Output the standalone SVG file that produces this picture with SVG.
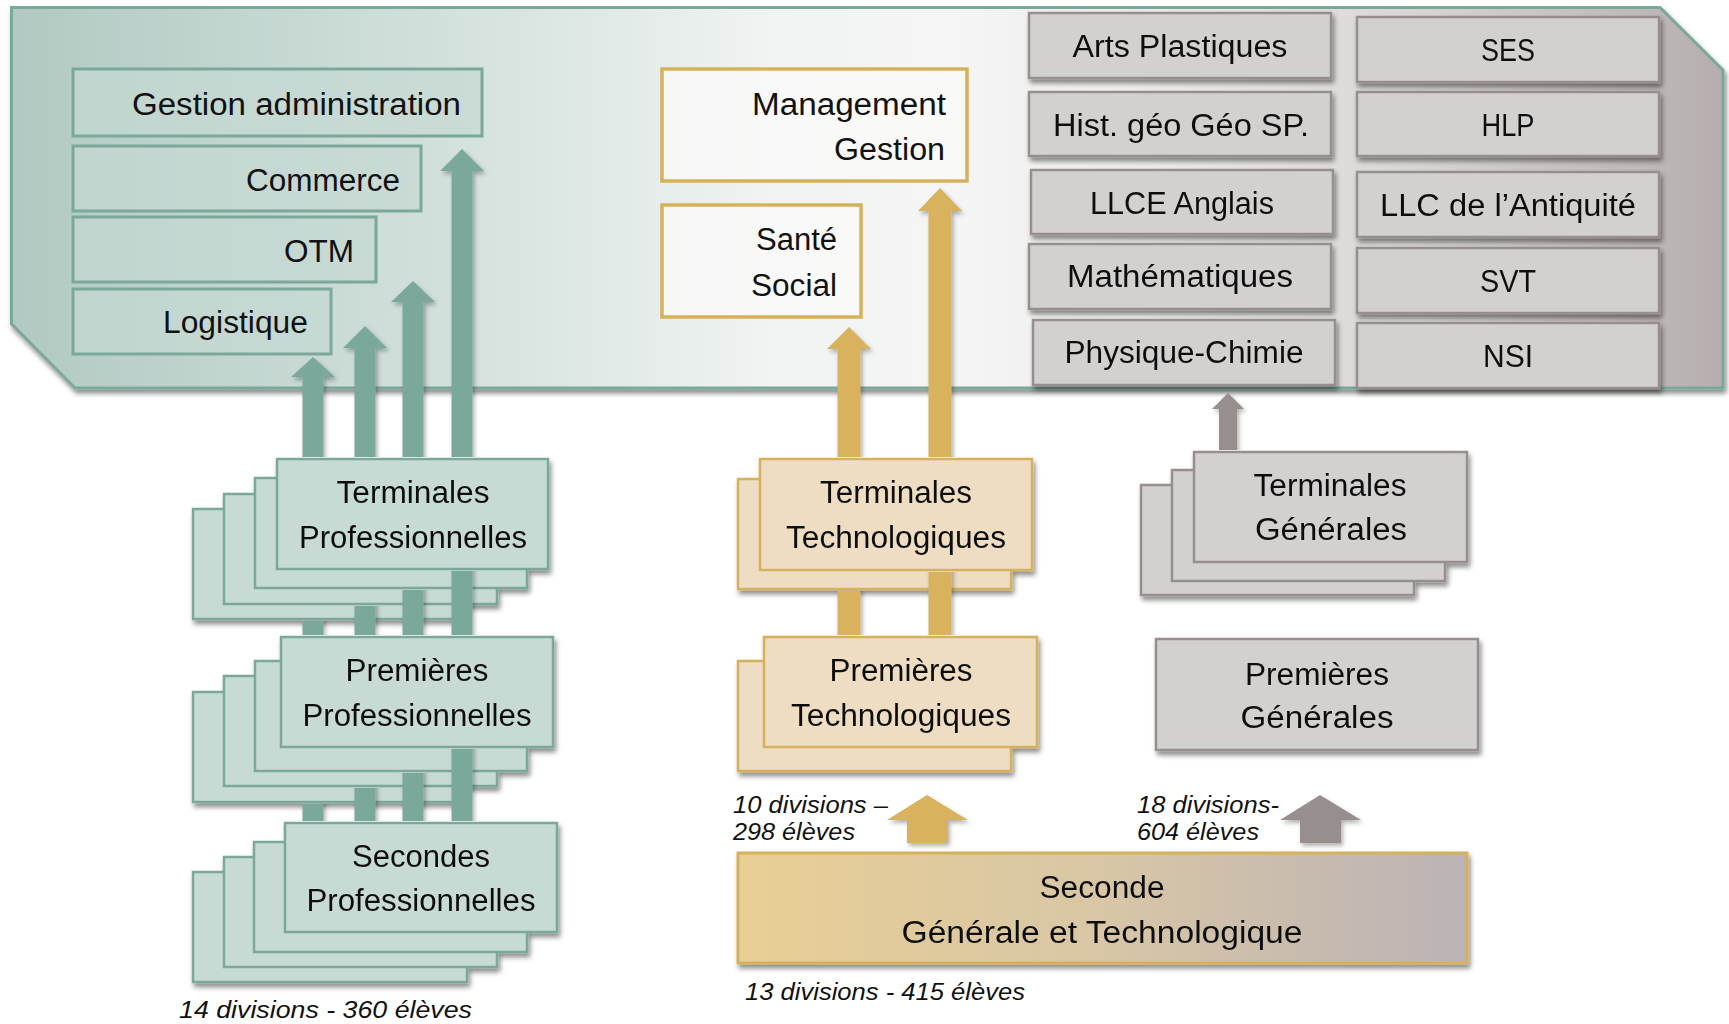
<svg xmlns="http://www.w3.org/2000/svg" xmlns:xlink="http://www.w3.org/1999/xlink" width="1729" height="1024" viewBox="0 0 1729 1024">
<defs>
<style>
.t{font-family:"Liberation Sans",Arial,sans-serif;font-size:31px;fill:#111;}
.i{font-family:"Liberation Sans",Arial,sans-serif;font-size:23px;font-style:italic;fill:#111;}
.m{text-anchor:middle;}
.e{text-anchor:end;}
.teal{fill:#C8DAD4;stroke:#7AA89B;stroke-width:2.5;}
.tealtop{fill:#C6D9D3;fill-opacity:0.7;stroke:#7AA89B;stroke-width:3;}
.tan{fill:#EEDDC3;stroke:#D6B15C;stroke-width:2.5;}
.tanout{fill:#FAFAF9;fill-opacity:0.8;stroke:#D6B15C;stroke-width:3.5;}
.gray{fill:#D3D1D0;stroke:#978E8E;stroke-width:2.5;}
.at{fill:#7AA89B;}
.an{fill:#D8B25C;}
.ag{fill:#978E8E;}
</style>
<linearGradient id="bgG" x1="0" y1="0" x2="1" y2="0">
<stop offset="0" stop-color="#B1C9C2"/>
<stop offset="0.25" stop-color="#D2E0DC"/>
<stop offset="0.45" stop-color="#F1F4F3"/>
<stop offset="0.55" stop-color="#F5F5F5"/>
<stop offset="0.65" stop-color="#EEEDED"/>
<stop offset="0.82" stop-color="#D8D5D5"/>
<stop offset="1" stop-color="#B6AEAE"/>
</linearGradient>
<linearGradient id="secG" x1="0" y1="0" x2="1" y2="0">
<stop offset="0" stop-color="#E8CF95"/>
<stop offset="0.5" stop-color="#D8C6A6"/>
<stop offset="1" stop-color="#BBB3B6"/>
</linearGradient>
<filter id="sh" x="-10%" y="-20%" width="125%" height="150%">
<feDropShadow dx="2" dy="4" stdDeviation="2.5" flood-color="#000" flood-opacity="0.45"/>
</filter>
<filter id="ash" x="-30%" y="-10%" width="170%" height="130%">
<feDropShadow dx="2" dy="3" stdDeviation="2" flood-color="#000" flood-opacity="0.3"/>
</filter>
<mask id="mT4" maskUnits="userSpaceOnUse" x="0" y="0" width="1729" height="1024">
<rect width="1729" height="1024" fill="#fff"/>
<rect x="275" y="457" width="275" height="114" fill="#000"/>
<rect x="279" y="635" width="276" height="114" fill="#000"/>
<rect x="283" y="821" width="276" height="113" fill="#000"/>
</mask>
<mask id="mT3" maskUnits="userSpaceOnUse" x="0" y="0" width="1729" height="1024">
<rect width="1729" height="1024" fill="#fff"/>
<rect x="275" y="457" width="275" height="114" fill="#000"/>
<rect x="279" y="635" width="276" height="114" fill="#000"/>
<rect x="283" y="821" width="276" height="113" fill="#000"/>
<rect x="253" y="476" width="276" height="114" fill="#000"/>
<rect x="253" y="659" width="276" height="114" fill="#000"/>
<rect x="252" y="840" width="277" height="114" fill="#000"/>
</mask>
<mask id="mT2" maskUnits="userSpaceOnUse" x="0" y="0" width="1729" height="1024">
<rect width="1729" height="1024" fill="#fff"/>
<rect x="275" y="457" width="275" height="114" fill="#000"/>
<rect x="279" y="635" width="276" height="114" fill="#000"/>
<rect x="283" y="821" width="276" height="113" fill="#000"/>
<rect x="253" y="476" width="276" height="114" fill="#000"/>
<rect x="253" y="659" width="276" height="114" fill="#000"/>
<rect x="252" y="840" width="277" height="114" fill="#000"/>
<rect x="222" y="492" width="277" height="114" fill="#000"/>
<rect x="222" y="674" width="277" height="114" fill="#000"/>
<rect x="222" y="855" width="277" height="114" fill="#000"/>
</mask>
<mask id="mT1" maskUnits="userSpaceOnUse" x="0" y="0" width="1729" height="1024">
<rect width="1729" height="1024" fill="#fff"/>
<rect x="275" y="457" width="275" height="114" fill="#000"/>
<rect x="279" y="635" width="276" height="114" fill="#000"/>
<rect x="283" y="821" width="276" height="113" fill="#000"/>
<rect x="253" y="476" width="276" height="114" fill="#000"/>
<rect x="253" y="659" width="276" height="114" fill="#000"/>
<rect x="252" y="840" width="277" height="114" fill="#000"/>
<rect x="222" y="492" width="277" height="114" fill="#000"/>
<rect x="222" y="674" width="277" height="114" fill="#000"/>
<rect x="222" y="855" width="277" height="114" fill="#000"/>
<rect x="191" y="507" width="277" height="114" fill="#000"/>
<rect x="191" y="690" width="277" height="114" fill="#000"/>
<rect x="191" y="870" width="278" height="114" fill="#000"/>
</mask>
<mask id="mN2" maskUnits="userSpaceOnUse" x="0" y="0" width="1729" height="1024">
<rect width="1729" height="1024" fill="#fff"/>
<rect x="758" y="457" width="276" height="115" fill="#000"/>
<rect x="762" y="635" width="277" height="114" fill="#000"/>
</mask>
<mask id="mN1" maskUnits="userSpaceOnUse" x="0" y="0" width="1729" height="1024">
<rect width="1729" height="1024" fill="#fff"/>
<rect x="758" y="457" width="276" height="115" fill="#000"/>
<rect x="762" y="635" width="277" height="114" fill="#000"/>
<rect x="736" y="477" width="277" height="114" fill="#000"/>
<rect x="736" y="659" width="277" height="114" fill="#000"/>
</mask>
<mask id="mG" maskUnits="userSpaceOnUse" x="0" y="0" width="1729" height="1024">
<rect width="1729" height="1024" fill="#fff"/>
<rect x="1192" y="450" width="277" height="114" fill="#000"/>
<rect x="1170" y="468" width="277" height="115" fill="#000"/>
<rect x="1139" y="483" width="277" height="114" fill="#000"/>
</mask>
</defs>

<rect width="1729" height="1024" fill="#fff"/>

<g id="background-panel">
<path d="M11.5,7.5 L1660,7.5 L1723,70 L1723,388 L75,388 L11.5,324 Z" fill="url(#bgG)" stroke="#7AA89B" stroke-width="3" filter="url(#sh)"/>
</g>

<g id="pro-options">
<g id="gestion-administration"><rect class="tealtop" x="73" y="69" width="409" height="67"/><text class="t e" x="461" y="115" textLength="329" lengthAdjust="spacingAndGlyphs">Gestion administration</text></g>
<g id="commerce"><rect class="tealtop" x="73" y="146" width="348" height="65"/><text class="t e" x="400" y="191" textLength="154" lengthAdjust="spacingAndGlyphs">Commerce</text></g>
<g id="otm"><rect class="tealtop" x="73" y="217" width="303" height="65"/><text class="t e" x="354" y="262" textLength="70" lengthAdjust="spacingAndGlyphs">OTM</text></g>
<g id="logistique"><rect class="tealtop" x="73" y="289" width="258" height="65"/><text class="t e" x="308" y="333" textLength="145" lengthAdjust="spacingAndGlyphs">Logistique</text></g>
</g>

<g id="tech-options">
<g id="management-gestion"><rect class="tanout" x="662" y="69" width="305" height="112"/><text class="t e" x="946" y="115" textLength="194" lengthAdjust="spacingAndGlyphs">Management</text><text class="t e" x="945" y="160" textLength="111" lengthAdjust="spacingAndGlyphs">Gestion</text></g>
<g id="sante-social"><rect class="tanout" x="662" y="205" width="199" height="112"/><text class="t e" x="837" y="250" textLength="81" lengthAdjust="spacingAndGlyphs">Santé</text><text class="t e" x="837" y="296" textLength="86" lengthAdjust="spacingAndGlyphs">Social</text></g>
</g>

<g id="specialites" filter="url(#sh)">
<g id="arts-plastiques"><rect class="gray" x="1029" y="13" width="302" height="65"/><text class="t m" x="1180" y="57" textLength="215" lengthAdjust="spacingAndGlyphs">Arts Plastiques</text></g>
<g id="hist-geo"><rect class="gray" x="1029" y="92" width="302" height="64"/><text class="t m" x="1181" y="136" textLength="256" lengthAdjust="spacingAndGlyphs">Hist. géo Géo SP.</text></g>
<g id="llce-anglais"><rect class="gray" x="1031" y="170" width="302" height="64"/><text class="t m" x="1182" y="214" textLength="184" lengthAdjust="spacingAndGlyphs">LLCE Anglais</text></g>
<g id="mathematiques"><rect class="gray" x="1029" y="244" width="302" height="65"/><text class="t m" x="1180" y="287" textLength="226" lengthAdjust="spacingAndGlyphs">Mathématiques</text></g>
<g id="physique-chimie"><rect class="gray" x="1033" y="320" width="302" height="65"/><text class="t m" x="1184" y="363" textLength="239" lengthAdjust="spacingAndGlyphs">Physique-Chimie</text></g>
<g id="ses"><rect class="gray" x="1357" y="17" width="302" height="65"/><text class="t m" x="1508" y="61" textLength="54" lengthAdjust="spacingAndGlyphs">SES</text></g>
<g id="hlp"><rect class="gray" x="1357" y="92" width="302" height="64"/><text class="t m" x="1508" y="136" textLength="53" lengthAdjust="spacingAndGlyphs">HLP</text></g>
<g id="llc-antiquite"><rect class="gray" x="1357" y="172" width="302" height="65"/><text class="t m" x="1508" y="216" textLength="256" lengthAdjust="spacingAndGlyphs">LLC de l’Antiquité</text></g>
<g id="svt"><rect class="gray" x="1357" y="248" width="302" height="65"/><text class="t m" x="1508" y="292" textLength="56" lengthAdjust="spacingAndGlyphs">SVT</text></g>
<g id="nsi"><rect class="gray" x="1357" y="323" width="302" height="65"/><text class="t m" x="1508" y="367" textLength="50" lengthAdjust="spacingAndGlyphs">NSI</text></g>
</g>

<g id="terminales-pro" filter="url(#sh)">
<rect class="teal" x="193" y="509" width="272" height="110"/>
<rect class="teal" x="224" y="494" width="273" height="110"/>
<rect class="teal" x="255" y="478" width="272" height="110"/>
<rect class="teal" x="277" y="459" width="271" height="110"/>
<text class="t m" x="413" y="503" textLength="153" lengthAdjust="spacingAndGlyphs">Terminales</text>
<text class="t m" x="413" y="548" textLength="228" lengthAdjust="spacingAndGlyphs">Professionnelles</text>
</g>
<g id="premieres-pro" filter="url(#sh)">
<rect class="teal" x="193" y="692" width="272" height="110"/>
<rect class="teal" x="224" y="676" width="273" height="110"/>
<rect class="teal" x="255" y="661" width="272" height="110"/>
<rect class="teal" x="281" y="637" width="272" height="110"/>
<text class="t m" x="417" y="681" textLength="143" lengthAdjust="spacingAndGlyphs">Premières</text>
<text class="t m" x="417" y="726" textLength="229" lengthAdjust="spacingAndGlyphs">Professionnelles</text>
</g>
<g id="secondes-pro" filter="url(#sh)">
<rect class="teal" x="193" y="872" width="274" height="110"/>
<rect class="teal" x="224" y="857" width="273" height="110"/>
<rect class="teal" x="254" y="842" width="273" height="110"/>
<rect class="teal" x="285" y="823" width="272" height="109"/>
<text class="t m" x="421" y="867" textLength="138" lengthAdjust="spacingAndGlyphs">Secondes</text>
<text class="t m" x="421" y="911" textLength="229" lengthAdjust="spacingAndGlyphs">Professionnelles</text>
</g>

<g id="terminales-tech" filter="url(#sh)">
<rect class="tan" x="738" y="479" width="273" height="110"/>
<rect class="tan" x="760" y="459" width="272" height="111"/>
<text class="t m" x="896" y="503" textLength="152" lengthAdjust="spacingAndGlyphs">Terminales</text>
<text class="t m" x="896" y="548" textLength="220" lengthAdjust="spacingAndGlyphs">Technologiques</text>
</g>
<g id="premieres-tech" filter="url(#sh)">
<rect class="tan" x="738" y="661" width="273" height="110"/>
<rect class="tan" x="764" y="637" width="273" height="110"/>
<text class="t m" x="901" y="681" textLength="143" lengthAdjust="spacingAndGlyphs">Premières</text>
<text class="t m" x="901" y="726" textLength="220" lengthAdjust="spacingAndGlyphs">Technologiques</text>
</g>

<g id="terminales-gen" filter="url(#sh)">
<rect class="gray" x="1141" y="485" width="273" height="110"/>
<rect class="gray" x="1172" y="470" width="273" height="111"/>
<rect class="gray" x="1194" y="452" width="273" height="110"/>
<text class="t m" x="1330" y="496" textLength="153" lengthAdjust="spacingAndGlyphs">Terminales</text>
<text class="t m" x="1331" y="540" textLength="152" lengthAdjust="spacingAndGlyphs">Générales</text>
</g>
<g id="premieres-gen" filter="url(#sh)">
<rect class="gray" x="1156" y="639" width="322" height="111"/>
<text class="t m" x="1317" y="685" textLength="144" lengthAdjust="spacingAndGlyphs">Premières</text>
<text class="t m" x="1317" y="728" textLength="153" lengthAdjust="spacingAndGlyphs">Générales</text>
</g>

<g id="seconde-gt" filter="url(#sh)">
<rect x="738" y="853" width="729" height="110" fill="url(#secG)" stroke="#D6B15C" stroke-width="3"/>
<text class="t m" x="1102" y="898" textLength="125" lengthAdjust="spacingAndGlyphs">Seconde</text>
<text class="t m" x="1102" y="943" textLength="401" lengthAdjust="spacingAndGlyphs">Générale et Technologique</text>
</g>

<g id="connectors">
<g mask="url(#mT1)"><path class="at" filter="url(#ash)" d="M302.5,900 V377 H291 L313,357 L335,377 H323.5 V900 Z"/></g>
<g mask="url(#mT2)"><path class="at" filter="url(#ash)" d="M354.5,900 V348 H343 L365,326 L387,348 H375.5 V900 Z"/></g>
<g mask="url(#mT3)"><path class="at" filter="url(#ash)" d="M402.5,900 V302 H391 L413,281 L435,302 H423.5 V900 Z"/></g>
<g mask="url(#mT4)"><path class="at" filter="url(#ash)" d="M451.5,900 V171 H440 L462,149 L484,171 H472.5 V900 Z"/></g>
<g mask="url(#mN1)"><path class="an" filter="url(#ash)" d="M837.5,700 V349 H827 L849,327 L871,349 H860.5 V700 Z"/></g>
<g mask="url(#mN2)"><path class="an" filter="url(#ash)" d="M928.5,700 V211 H918 L940,188 L962,211 H951.5 V700 Z"/></g>
<g mask="url(#mG)"><path class="ag" filter="url(#ash)" d="M1219,560 V409 H1212 L1228,393 L1244,409 H1237 V560 Z"/></g>
<path class="an" filter="url(#ash)" d="M907,843 V820 H887 L927,795 L968,820 H948 V843 Z"/>
<path class="ag" filter="url(#ash)" d="M1300,843 V820 H1280 L1320,795 L1361,820 H1341 V843 Z"/>
</g>

<g id="labels">
<text class="i" x="733" y="813" textLength="155" lengthAdjust="spacingAndGlyphs">10 divisions –</text>
<text class="i" x="733" y="840" textLength="122" lengthAdjust="spacingAndGlyphs">298 élèves</text>
<text class="i" x="1137" y="813" textLength="142" lengthAdjust="spacingAndGlyphs">18 divisions-</text>
<text class="i" x="1137" y="840" textLength="122" lengthAdjust="spacingAndGlyphs">604 élèves</text>
<text class="i" x="745" y="1000" textLength="280" lengthAdjust="spacingAndGlyphs">13 divisions - 415 élèves</text>
<text class="i" x="179" y="1018" textLength="293" lengthAdjust="spacingAndGlyphs">14 divisions - 360 élèves</text>
</g>
</svg>
